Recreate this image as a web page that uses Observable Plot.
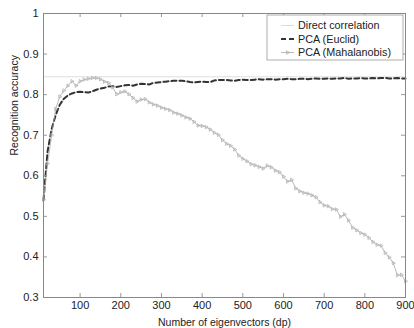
<!DOCTYPE html>
<html>
<head>
<meta charset="utf-8">
<script src="https://cdn.jsdelivr.net/npm/d3@7"></script>
<script src="https://cdn.jsdelivr.net/npm/@observablehq/plot@0.6"></script>
<style>
  body { margin: 0; background: #fff; }
  #chart svg { font-family: "Liberation Sans", Arial, sans-serif; }
</style>
</head>
<body>
<div id="chart"></div>
<script>
const dims = [10,20,30,40,50,60,70,80,90,100,110,120,130,140,150,160,170,180,190,200,
  210,220,230,240,250,260,270,280,290,300,310,320,330,340,350,360,370,380,390,400,
  410,420,430,440,450,460,470,480,490,500,510,520,530,540,550,560,570,580,590,600,
  610,620,630,640,650,660,670,680,690,700,710,720,730,740,750,760,770,780,790,800,
  810,820,830,840,850,860,870,880,890,900];

const euclid = [0.540,0.660,0.715,0.750,0.775,0.790,0.798,0.803,0.806,0.807,
  0.806,0.805,0.808,0.812,0.815,0.817,0.820,0.821,0.819,0.821,
  0.823,0.824,0.822,0.825,0.827,0.826,0.825,0.829,0.830,0.831,
  0.832,0.833,0.834,0.834,0.834,0.833,0.831,0.830,0.831,0.832,
  0.831,0.831,0.835,0.836,0.836,0.836,0.835,0.834,0.836,0.837,
  0.836,0.836,0.837,0.838,0.837,0.838,0.838,0.837,0.838,0.838,
  0.839,0.838,0.838,0.839,0.839,0.838,0.839,0.840,0.839,0.839,
  0.840,0.839,0.840,0.840,0.841,0.839,0.840,0.840,0.841,0.840,
  0.840,0.841,0.840,0.841,0.841,0.840,0.840,0.841,0.840,0.840];

const mahalanobis = [0.541,0.630,0.700,0.765,0.795,0.810,0.822,0.833,0.822,0.833,
  0.837,0.839,0.841,0.841,0.838,0.832,0.829,0.818,0.801,0.806,
  0.808,0.801,0.792,0.783,0.788,0.789,0.781,0.776,0.773,0.768,
  0.765,0.762,0.756,0.753,0.749,0.744,0.741,0.733,0.724,0.723,
  0.720,0.714,0.706,0.701,0.688,0.679,0.674,0.665,0.650,0.642,
  0.636,0.629,0.626,0.622,0.618,0.625,0.621,0.613,0.609,0.598,
  0.586,0.590,0.569,0.562,0.558,0.556,0.552,0.547,0.535,0.527,
  0.525,0.518,0.517,0.499,0.505,0.490,0.472,0.466,0.459,0.455,
  0.447,0.437,0.430,0.428,0.410,0.399,0.385,0.355,0.356,0.340];

const directCorrelation = 0.844;

const xTicks = [100,200,300,400,500,600,700,800,900];
const yTicks = [0.3,0.4,0.5,0.6,0.7,0.8,0.9,1];
const yTickLabels = ["0.3","0.4","0.5","0.6","0.7","0.8","0.9","1"];
const seriesNames = ["Direct correlation","PCA (Euclid)","PCA (Mahalanobis)"];

const xDomain = [10, 900];
const yDomain = [0.3, 1];

const eData = dims.map((d,i) => ({x: d, y: euclid[i]}));
const mData = dims.map((d,i) => ({x: d, y: mahalanobis[i]}));

const W = 414, H = 328;
const mL = 43, mR = 9, mT = 13, mB = 31;
const pxX = (xDomain[1]-xDomain[0])/(W-mL-mR);
const pxY = (yDomain[1]-yDomain[0])/(H-mT-mB);
const tk = 4;

const plot = Plot.plot({
  width: W, height: H,
  marginLeft: mL, marginRight: mR, marginTop: mT, marginBottom: mB,
  style: {fontSize: "11px", color: "#222", background: "#fff"},
  x: {domain: xDomain, ticks: xTicks, tickSize: 0, tickPadding: 4, label: null},
  y: {domain: yDomain, ticks: yTicks, tickSize: 0, tickPadding: 5, label: null,
      tickFormat: d => yTickLabels[yTicks.indexOf(d)] ?? d},
  marks: [
    Plot.ruleY([directCorrelation], {stroke: "#d4d4d4", strokeWidth: 0.8}),
    Plot.line(eData, {x: "x", y: "y", stroke: "#333", strokeWidth: 2, strokeDasharray: "5,3", curve: "linear"}),
    Plot.line(mData, {x: "x", y: "y", stroke: "#a8a8a8", strokeWidth: 0.8}),
    Plot.dot(mData, {x: "x", y: "y", symbol: "triangle", rotate: 90, r: 1.3, stroke: "#aaa", strokeWidth: 0.7, fill: "none"}),
    // inward ticks
    Plot.ruleX(xTicks, {x: d => d, y1: yDomain[0], y2: yDomain[0] + tk*pxY, stroke: "#999"}),
    Plot.ruleX(xTicks, {x: d => d, y1: yDomain[1] - tk*pxY, y2: yDomain[1], stroke: "#999"}),
    Plot.ruleY(yTicks, {y: d => d, x1: xDomain[0], x2: xDomain[0] + tk*pxX, stroke: "#999"}),
    Plot.ruleY(yTicks, {y: d => d, x1: xDomain[1] - tk*pxX, x2: xDomain[1], stroke: "#999"}),
    Plot.frame({stroke: "#888"}),
    Plot.text(["Recognition accuracy"], {frameAnchor: "left", dx: -29, rotate: -90, fontSize: 10.5, fill: "#222"}),
    Plot.text(["Number of eigenvectors (dp)"], {frameAnchor: "bottom", dy: 25, lineAnchor: "middle", fontSize: 10.5, fill: "#222"})
  ]
});

// Legend inside plot area (top right)
const svg = d3.select(plot);
const lx = 267, ly = 15, lw = 136, lh = 45;
const g = svg.append("g").attr("font-size", 10.8).attr("fill", "#222").attr("text-anchor", "start");
g.append("rect").attr("x", lx).attr("y", ly).attr("width", lw).attr("height", lh)
  .attr("fill", "#fff").attr("stroke", "#999").attr("stroke-width", 0.8);
const rowsY = [25.5, 39, 52.5];
const styles = [
  {stroke: "#d4d4d4", w: 0.8, dash: null, marker: false},
  {stroke: "#333", w: 2, dash: "5,3", marker: false},
  {stroke: "#a8a8a8", w: 0.8, dash: null, marker: true}
];
seriesNames.forEach((name, i) => {
  const y = rowsY[i], s = styles[i];
  const ln = g.append("line").attr("x1", 281).attr("x2", 294).attr("y1", y).attr("y2", y)
    .attr("stroke", s.stroke).attr("stroke-width", s.w);
  if (s.dash) ln.attr("stroke-dasharray", s.dash);
  if (s.marker) {
    g.append("path").attr("d", d3.symbol(d3.symbolTriangle, 6)())
      .attr("transform", `translate(287.5,${y}) rotate(90)`)
      .attr("fill", "none").attr("stroke", "#aaa").attr("stroke-width", 0.7);
  }
  g.append("text").attr("x", 298).attr("y", y).attr("dy", "0.35em").attr("text-anchor", "start").text(name);
});

document.getElementById("chart").appendChild(plot);
</script>
</body>
</html>
